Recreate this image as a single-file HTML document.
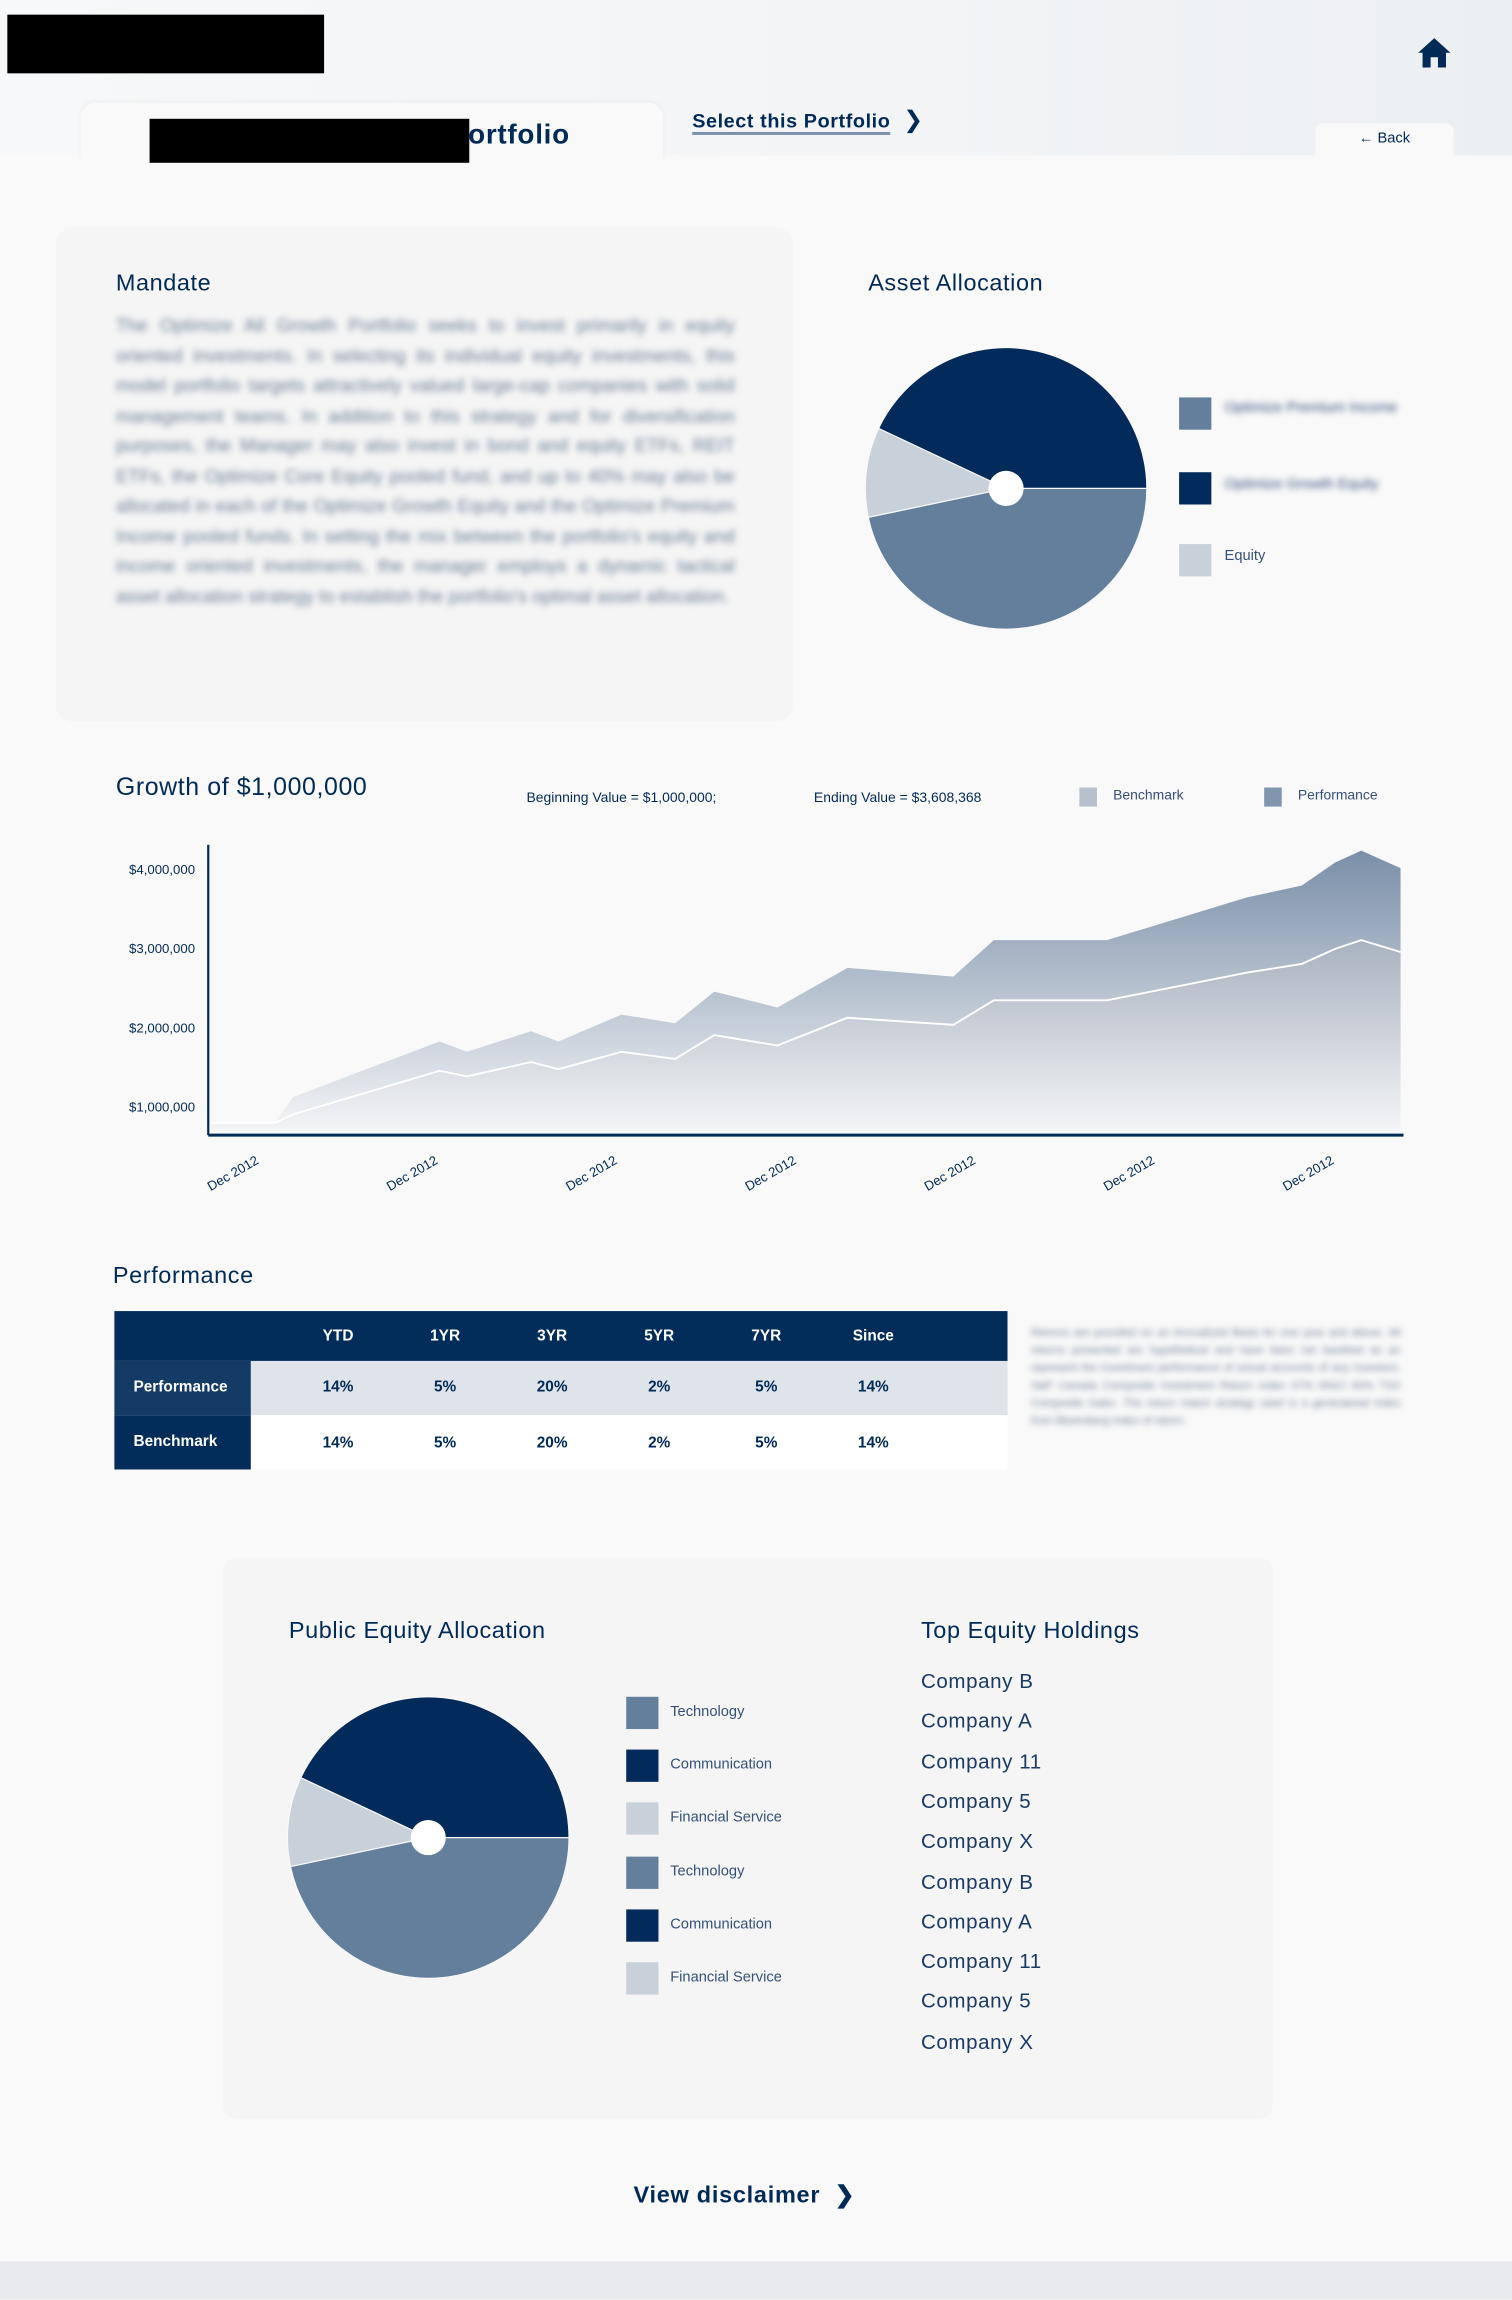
<!DOCTYPE html>
<html><head><meta charset="utf-8">
<style>
html,body{margin:0;padding:0;width:1512px;height:2299px;overflow:hidden;background:#f9f9f9;}
#wrap{position:absolute;left:0;top:0;width:1031px;height:1568px;transform:scale(1.46654);transform-origin:0 0;font-family:"Liberation Sans",sans-serif;color:#022a57;}
.abs{position:absolute;}
.blur{filter:blur(2.2px);color:#6d7f96;}
h2{margin:0;font-weight:normal;font-size:16px;letter-spacing:.4px;position:absolute;color:#022a57;}
.sw{position:absolute;width:22px;height:22px;}
.lg{position:absolute;font-size:10px;color:#35507a;}
.cell{position:absolute;width:73px;text-align:center;font-size:10.5px;font-weight:bold;}
</style></head><body>
<div id="wrap">
 <div class="abs" style="left:0;top:0;width:1031px;height:106px;background:linear-gradient(90deg,#f7f8f9 0%,#f2f4f6 60%,#eceff2 100%);"></div>
 <div class="abs" style="left:5px;top:10px;width:216px;height:40px;background:#000"></div>
 <svg class="abs" style="left:966px;top:25px" width="24" height="22" viewBox="0 0 24 22"><path d="M12 1 L23 11 L20 11 L20 21 L14.5 21 L14.5 14 L9.5 14 L9.5 21 L4 21 L4 11 L1 11 Z" fill="#022a57"/></svg>
 <div class="abs" style="left:55px;top:70px;width:397px;height:40px;background:#f9f9f9;border-radius:10px 10px 0 0;box-shadow:0 -1px 3px rgba(0,0,0,.04)"></div>
 <div class="abs" style="left:306px;top:82px;font-size:19px;font-weight:bold;letter-spacing:.5px">Portfolio</div>
 <div class="abs" style="left:102px;top:81px;width:218px;height:30px;background:#000"></div>
 <div class="abs" style="left:472px;top:75px;font-size:13.5px;font-weight:bold;letter-spacing:.4px;border-bottom:2px solid #7d91ab;padding-bottom:0px">Select this Portfolio</div>
 <div class="abs" style="left:616px;top:72px;font-size:16px">&#x276F;</div>
 <div class="abs" style="left:897px;top:84px;width:94px;height:24px;background:#f9f9f9;border-radius:5px 5px 0 0;font-size:10px;text-align:center;line-height:22px">&#8592; Back</div>

 <div class="abs" style="left:38px;top:155px;width:503px;height:337px;background:#f5f5f5;border-radius:12px"></div>
 <h2 style="left:79px;top:185px">Mandate</h2>
 <div class="abs blur" style="left:79px;top:212px;width:422px;font-size:12.6px;line-height:20.5px;text-align:justify">The Optimize All Growth Portfolio seeks to invest primarily in equity oriented investments. In selecting its individual equity investments, this model portfolio targets attractively valued large-cap companies with solid management teams. In addition to this strategy and for diversification purposes, the Manager may also invest in bond and equity ETFs, REIT ETFs, the Optimize Core Equity pooled fund, and up to 40% may also be allocated in each of the Optimize Growth Equity and the Optimize Premium Income pooled funds. In setting the mix between the portfolio's equity and income oriented investments, the manager employs a dynamic tactical asset allocation strategy to establish the portfolio's optimal asset allocation.</div>

 <h2 style="left:592px;top:185px">Asset Allocation</h2>
 <svg class="abs" id="pie1" style="left:586px;top:233px" width="200" height="200"></svg>
 <div class="sw" style="left:804px;top:271px;background:#647f9c"></div>
 <div class="lg blur" style="left:835px;top:273px">Optimize Premium Income</div>
 <div class="sw" style="left:804px;top:322px;background:#022a5a"></div>
 <div class="lg blur" style="left:835px;top:325px">Optimize Growth Equity</div>
 <div class="sw" style="left:804px;top:371px;background:#c8d0da"></div>
 <div class="lg" style="left:835px;top:374px">Equity</div>

 <h2 style="left:79px;top:527px;font-size:17px">Growth of $1,000,000</h2>
 <div class="lg" style="left:359px;top:539px;color:#022a57;font-size:9.5px">Beginning Value = $1,000,000;</div>
 <div class="lg" style="left:555px;top:539px;color:#022a57;font-size:9.5px">Ending Value = $3,608,368</div>
 <div class="abs" style="left:736px;top:537px;width:12px;height:13px;background:#b7c1cd"></div>
 <div class="lg" style="left:759px;top:537px;font-size:9.5px">Benchmark</div>
 <div class="abs" style="left:862px;top:537px;width:12px;height:13px;background:#8196ae"></div>
 <div class="lg" style="left:885px;top:537px;font-size:9.5px">Performance</div>
 <svg class="abs" id="growth" style="left:0;top:560px" width="1031" height="270"></svg>

 <h2 style="left:77px;top:862px">Performance</h2>
 <div class="abs" style="left:78px;top:894px;width:609px;height:108px">
  <div class="abs" style="left:0;top:0;width:609px;height:34px;background:#022c5a"></div>
  <div class="abs" style="left:0;top:34px;width:609px;height:37px;background:#dfe3ea"></div>
  <div class="abs" style="left:0;top:71px;width:609px;height:37px;background:#fff"></div>
  <div class="abs" style="left:0;top:34px;width:93px;height:37px;background:#143a66;color:#fff;font-size:10.5px;font-weight:bold;line-height:37px;text-indent:13px">Performance</div>
  <div class="abs" style="left:0;top:71px;width:93px;height:37px;background:#022c5a;color:#fff;font-size:10.5px;font-weight:bold;line-height:37px;text-indent:13px">Benchmark</div>
  <div id="tcells"></div>
 </div>
 <div class="abs blur" style="left:703px;top:903px;width:252px;font-size:7.5px;line-height:12px;text-align:justify">Returns are provided on an Annualized Basis for one year and above. All returns presented are hypothetical and have been net backtest as an represent the investment performance of actual accounts of any investors. S&amp;P Canada Composite Investment Return Index 07% MSCI 60% TSX Composite Index. The return match strategy used is a generalized index from Bloomberg Index of return.</div>

 <div class="abs" style="left:152px;top:1062px;width:716px;height:383px;background:#f5f5f5;border-radius:10px"></div>
 <h2 style="left:197px;top:1104px">Public Equity Allocation</h2>
 <svg class="abs" id="pie2" style="left:192px;top:1153px" width="200" height="200"></svg>
 <div id="pelegend"></div>
 <h2 style="left:628px;top:1104px">Top Equity Holdings</h2>
 <div id="holdings"></div>

 <div class="abs" style="left:432px;top:1487px;font-size:16px;font-weight:bold;letter-spacing:.5px">View disclaimer&nbsp;&nbsp;&#x276F;</div>
 <div class="abs" style="left:0;top:1542px;width:1031px;height:26px;background:#e8eaed"></div>
</div>
<script>
const NS="http://www.w3.org/2000/svg";
// ---- data ----
const allocLabels=["Optimize Premium Income","Equity","Optimize Growth Equity"];
const allocValues=[46.7,10.3,43.0];
const equityLabels=["Technology","Communication","Financial Service","Technology","Communication","Financial Service"];
const equitySliceValues=[46.7,10.3,43.0];
const timeIndex=[0,5.3,6.9,19.2,21.5,26.9,29.2,34.5,39.0,42.3,47.6,53.5,62.4,65.8,75.3,87.1,91.7,94.5,96.7,100];
const performanceValues=[0.80,0.80,1.13,1.83,1.70,1.96,1.83,2.17,2.06,2.46,2.26,2.76,2.65,3.11,3.11,3.65,3.80,4.09,4.24,4.02];
const benchmarkValues=[0.80,0.80,0.91,1.46,1.39,1.57,1.48,1.70,1.61,1.91,1.78,2.13,2.04,2.35,2.35,2.70,2.81,3.00,3.11,2.96];
const yTicks=[1,2,3,4];
const yTickLabels=["$1,000,000","$2,000,000","$3,000,000","$4,000,000"];
const xTickLabels=["Dec 2012","Dec 2012","Dec 2012","Dec 2012","Dec 2012","Dec 2012","Dec 2012"];
const holdings=["Company B","Company A","Company 11","Company 5","Company X","Company B","Company A","Company 11","Company 5","Company X"];
const tableCols=["YTD","1YR","3YR","5YR","7YR","Since"];
const perfRow=["14%","5%","20%","2%","5%","14%"];
const benchRow=["14%","5%","20%","2%","5%","14%"];

function el(tag,attrs,parent){const e=document.createElementNS(NS,tag);for(const k in attrs)e.setAttribute(k,attrs[k]);parent.appendChild(e);return e;}

// table cells
const tc=document.getElementById("tcells");
function addCell(txt,i,top,color,name){
  const d=document.createElement("div");d.className="cell";d.textContent=txt;
  d.style.left=(116+i*73)+"px";d.style.top=top+"px";d.style.color=color;
  
  
  tc.appendChild(d);
}
tableCols.forEach((t,i)=>addCell(t,i,11,"#fff","column-header"));
perfRow.forEach((t,i)=>addCell(t,i,46,"#022a57","performance-cell"));
benchRow.forEach((t,i)=>addCell(t,i,84,"#022a57","benchmark-cell"));

function drawPie(svg,vals,colors,name){
  const cx=100,cy=100,r=96;let a=0;const tot=vals.reduce((s,v)=>s+v,0);
  vals.forEach((v,i)=>{
    const a0=a/tot*2*Math.PI;a+=v;const a1=a/tot*2*Math.PI;
    const x0=cx+r*Math.cos(a0),y0=cy+r*Math.sin(a0),x1=cx+r*Math.cos(a1),y1=cy+r*Math.sin(a1);
    const p=el("path",{d:`M${cx},${cy}L${x0},${y0}A${r},${r} 0 ${(a1-a0)>Math.PI?1:0} 1 ${x1},${y1}Z`,fill:colors[i],stroke:"#f9f9f9","stroke-width":"0.8"},svg);
    
    
  });
  const h=el("circle",{cx:cx,cy:cy,r:12,fill:"#fff"},svg);
  
  
}
const pieColors=["#647f9c","#c8d0da","#022a5a"];
drawPie(document.getElementById("pie1"),allocValues,pieColors,"asset-allocation");
drawPie(document.getElementById("pie2"),equitySliceValues,pieColors,"public-equity");

const leg=document.getElementById("pelegend");
const legColors=["#647f9c","#022a5a","#c8d0da"];
equityLabels.forEach((t,i)=>{
  const s=document.createElement("div");s.className="sw";
  s.style.left="427px";s.style.top=(1157+i*36.2)+"px";s.style.background=legColors[i%3];
  
  
  leg.appendChild(s);
  const l=document.createElement("div");l.className="lg";l.textContent=t;
  l.style.left="457px";l.style.top=(1162+i*36.2)+"px";
  
  
  leg.appendChild(l);
});
const hd=document.getElementById("holdings");
holdings.forEach((t,i)=>{
  const d=document.createElement("div");d.className="abs";d.textContent=t;
  d.style.cssText=`left:628px;top:${1138+i*27.3}px;font-size:14px;letter-spacing:.4px;color:#1a3a66`;
  
  
  hd.appendChild(d);
});

const g=document.getElementById("growth");
const X0=144,X1=955,Y0=249,PXM=54;
const xs=t=>X0+(X1-X0)*t/100;
const ys=v=>Y0-v*PXM;
const baseV=0.70;
const defs=el("defs",{},g);
const gr1=el("linearGradient",{id:"gp",x1:0,y1:0,x2:0,y2:1},defs);
el("stop",{offset:"0","stop-color":"#7a8fa8"},gr1);el("stop",{offset:"1","stop-color":"#f4f5f7"},gr1);
const gr2=el("linearGradient",{id:"gb",x1:0,y1:0,x2:0,y2:1},defs);
el("stop",{offset:"0","stop-color":"#a9b2c0"},gr2);el("stop",{offset:"1","stop-color":"#f3f4f6"},gr2);
function area(vals,fill,name){
  let d=`M${xs(timeIndex[0])},${ys(baseV)}`;
  vals.forEach((v,i)=>d+=`L${xs(timeIndex[i])},${ys(v)}`);
  d+=`L${xs(timeIndex[timeIndex.length-1])},${ys(baseV)}Z`;
  const p=el("path",{d:d,fill:fill},g);
  
  
}
area(performanceValues,"url(#gp)","performance-area");
area(benchmarkValues,"url(#gb)","benchmark-area");
const bl=el("polyline",{points:benchmarkValues.map((v,i)=>xs(timeIndex[i])+","+ys(v)).join(" "),fill:"none",stroke:"#fff","stroke-width":"1.3"},g);


const ya=el("line",{x1:142,y1:16,x2:142,y2:214,stroke:"#022a57","stroke-width":"1.5"},g);


const xa=el("line",{x1:142,y1:214,x2:957,y2:214,stroke:"#022a57","stroke-width":"2"},g);


yTicks.forEach((v,i)=>{
  const t=el("text",{x:133,y:ys(v)+3,"text-anchor":"end","font-size":"9","fill":"#022a57","font-family":"Liberation Sans, sans-serif"},g);
  t.textContent=yTickLabels[i];
  
  
});
xTickLabels.forEach((s,i)=>{
  const x=177+i*122.2,y=233;
  const t=el("text",{x:x,y:y,"text-anchor":"end","font-size":"9","fill":"#022a57","font-family":"Liberation Sans, sans-serif",transform:`rotate(-30 ${x} ${y})`},g);
  t.textContent=s;
  
  
});
</script>
</body></html>
